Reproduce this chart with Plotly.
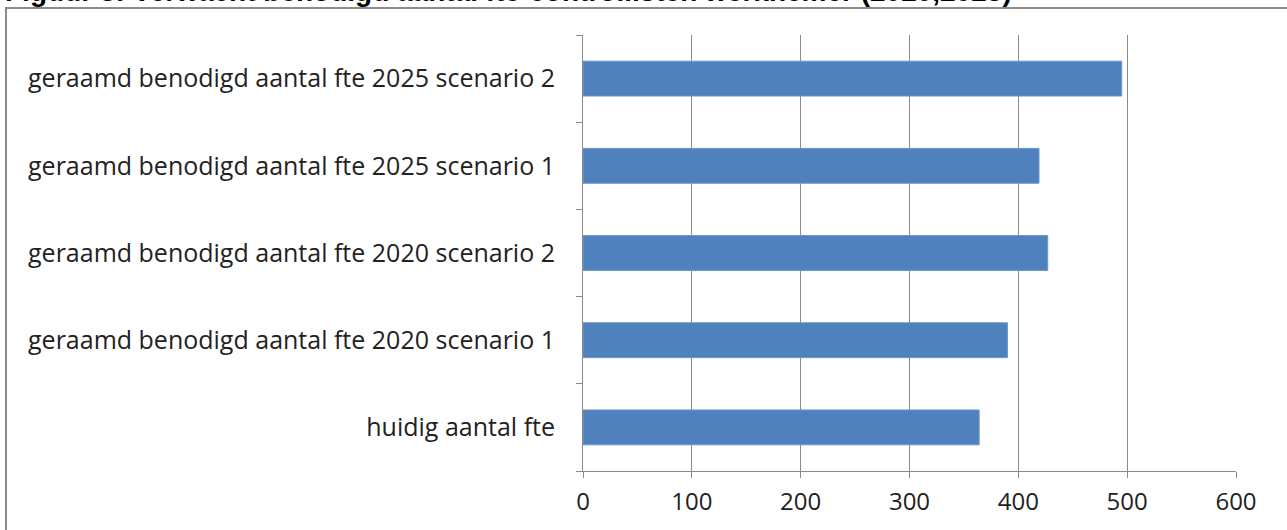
import plotly.graph_objects as go

categories = [
    "huidig aantal fte",
    "geraamd benodigd aantal fte 2020 scenario 1",
    "geraamd benodigd aantal fte 2020 scenario 2",
    "geraamd benodigd aantal fte 2025 scenario 1",
    "geraamd benodigd aantal fte 2025 scenario 2",
]
values = [364, 390, 427, 419, 495]
x_ticks = [0, 100, 200, 300, 400, 500, 600]
title_text = "Figuur 8: Verwacht benodigd aantal fte-controllisten werknemer (2020,2025)"

W, H = 1287, 530
L, R, T, B = 583, 51, 35, 59
pw, ph = W - L - R, H - T - B

def px_x(p):
    return (p - L) / pw

def px_y(p):
    return (H - B - p) / ph

fig = go.Figure(go.Bar(
    y=categories, x=values, orientation="h",
    marker=dict(color="#4F81BD", line=dict(color="#6d96c8", width=1)),
    width=0.4,
))

grid = "#8a8a8a"
fig.update_layout(
    width=W, height=H,
    margin=dict(l=L, r=R, t=T, b=B, pad=0),
    paper_bgcolor="white", plot_bgcolor="white",
    showlegend=False,
    font=dict(family="Open Sans, sans-serif", color="#222222"),
    xaxis=dict(
        range=[0, 600], tickvals=x_ticks, showgrid=True, gridcolor=grid, gridwidth=1,
        zeroline=False, showline=True, linecolor=grid, linewidth=1,
        ticks="outside", ticklen=6, tickcolor=grid,
        tickfont=dict(size=24, family="Open Sans, sans-serif", color="#222222"),
        ticklabelstandoff=3,
    ),
    yaxis=dict(
        categoryorder="array", categoryarray=categories,
        range=[-0.5, 4.5],
        showline=True, linecolor=grid, linewidth=1,
        ticks="outside", ticklen=6, tickcolor=grid, tickson="boundaries",
        showgrid=False,
        tickfont=dict(size=25, family="Open Sans, sans-serif", color="#222222"),
        ticklabelstandoff=22,
    ),
    shapes=[dict(
        type="rect", xref="paper", yref="paper",
        x0=px_x(6), x1=px_x(1400), y0=px_y(700), y1=px_y(8),
        line=dict(color="#8c8c8c", width=2), layer="below",
    )],
    annotations=[dict(
        text="<b>" + title_text + "</b>", xref="paper", yref="paper",
        x=px_x(3), y=px_y(9), xanchor="left", yanchor="bottom",
        showarrow=False, font=dict(size=28, family="Liberation Sans, Arial, sans-serif", color="#000000"),
    )],
)

fig.write_html("out.html")
